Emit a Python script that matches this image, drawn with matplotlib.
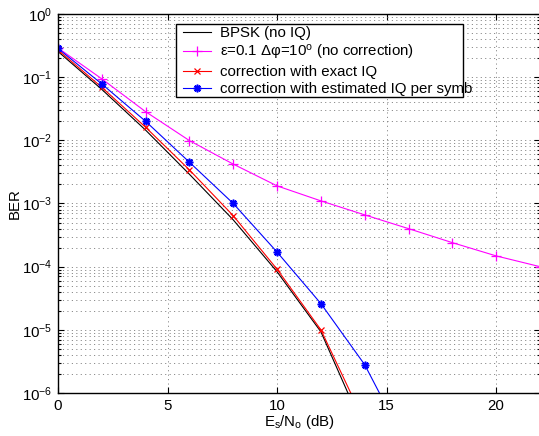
import numpy as np
import matplotlib
matplotlib.use('Agg')
import matplotlib.pyplot as plt
from matplotlib.ticker import LogLocator, FixedLocator, NullFormatter
from matplotlib.patches import Rectangle

# ---- data ----
snr_bpsk = [0, 2, 4, 6, 8, 10, 12, 14]
ber_bpsk = [0.255, 0.064, 0.0145, 0.0029, 0.00055, 8.3e-5, 9.3e-6, 2.5e-7]

snr_noc = [0, 2, 4, 6, 8, 10, 12, 14, 16, 18, 20, 22]
ber_noc = [0.29, 0.094, 0.0284, 0.0099, 0.0042, 0.0019, 0.0011, 6.6e-4,
           4.0e-4, 2.4e-4, 1.48e-4, 1.0e-4]

snr_exact = [0, 2, 4, 6, 8, 10, 12, 14]
ber_exact = [0.27, 0.069, 0.0161, 0.0034, 0.00064, 9.1e-5, 1.0e-5, 3.4e-7]

snr_est = [0, 2, 4, 6, 8, 10, 12, 14, 16]
ber_est = [0.285, 0.078, 0.020, 0.0045, 0.0010, 1.7e-4, 2.6e-5, 2.8e-6, 1.3e-7]

labels = ['BPSK (no IQ)',
          'ε=0.1 Δφ=10$^{\\mathrm{o}}$ (no correction)',
          'correction with exact IQ',
          'correction with estimated IQ per symb']
x_ticks = [0, 5, 10, 15, 20]

plt.rcParams['font.family'] = ['Liberation Sans', 'DejaVu Sans']
plt.rcParams['mathtext.fontset'] = 'custom'
plt.rcParams['mathtext.rm'] = 'Liberation Sans'
plt.rcParams['mathtext.it'] = 'Liberation Sans:italic'
plt.rcParams['mathtext.bf'] = 'Liberation Sans:bold'
plt.rcParams['lines.scale_dashes'] = False
FS = 10.8
plt.rcParams['font.size'] = FS

fig = plt.figure(figsize=(5.39, 4.36), dpi=100)
ax = fig.add_axes([58/539, 43/436, 482/539, 379/436])

lw = 0.8
ax.semilogy(snr_bpsk, ber_bpsk, color='black', lw=lw, label=labels[0])
ax.semilogy(snr_noc, ber_noc, color='#ff00ff', lw=lw, marker='+', ms=6.5, mew=0.9, label=labels[1])
ax.semilogy(snr_exact, ber_exact, color='red', lw=lw, marker='x', ms=4, mew=0.9, label=labels[2])
ax.semilogy(snr_est, ber_est, color='blue', lw=lw, marker=(8, 2, 0), ms=5.5, mew=1.2, label=labels[3])

ax.set_xlim(0, 22)
ax.set_ylim(1e-6, 1)
ax.xaxis.set_major_locator(FixedLocator(x_ticks))
ax.yaxis.set_major_locator(LogLocator(base=10, numticks=20))
ax.yaxis.set_minor_locator(LogLocator(base=10, subs=np.arange(2, 10), numticks=20))
ax.yaxis.set_minor_formatter(NullFormatter())

grid_kw = dict(linestyle=(0, (0.8, 2.4)), color='0.45', lw=0.6)
ax.grid(True, which='major', **grid_kw)
ax.grid(True, which='minor', axis='y', **grid_kw)

ax.tick_params(which='both', direction='in', top=True, right=True, width=0.8, labelsize=FS)
ax.tick_params(which='major', length=4.5, pad=4)
ax.tick_params(which='minor', length=2.5)
for s in ax.spines.values():
    s.set_linewidth(1.0)

ax.set_xlabel('E$_\\mathrm{s}$/N$_\\mathrm{o}$ (dB)', fontsize=FS, labelpad=0)
ax.set_ylabel('BER', fontsize=FS, labelpad=0)

# MATLAB-like legend box (text may overhang the frame)
ax.add_patch(Rectangle((0.2448, 0.781), 0.840 - 0.2448, 0.9736 - 0.781,
                       transform=ax.transAxes, facecolor='white', edgecolor='black',
                       lw=1.0, zorder=4.5))
leg = ax.legend(loc='upper left', bbox_to_anchor=(0.2593, 0.968), frameon=False,
                borderaxespad=0, handlelength=1.9, handletextpad=0.55,
                labelspacing=0.2, borderpad=0, fontsize=FS)
leg.set_zorder(5)

fig.savefig('out.png', dpi=100)
